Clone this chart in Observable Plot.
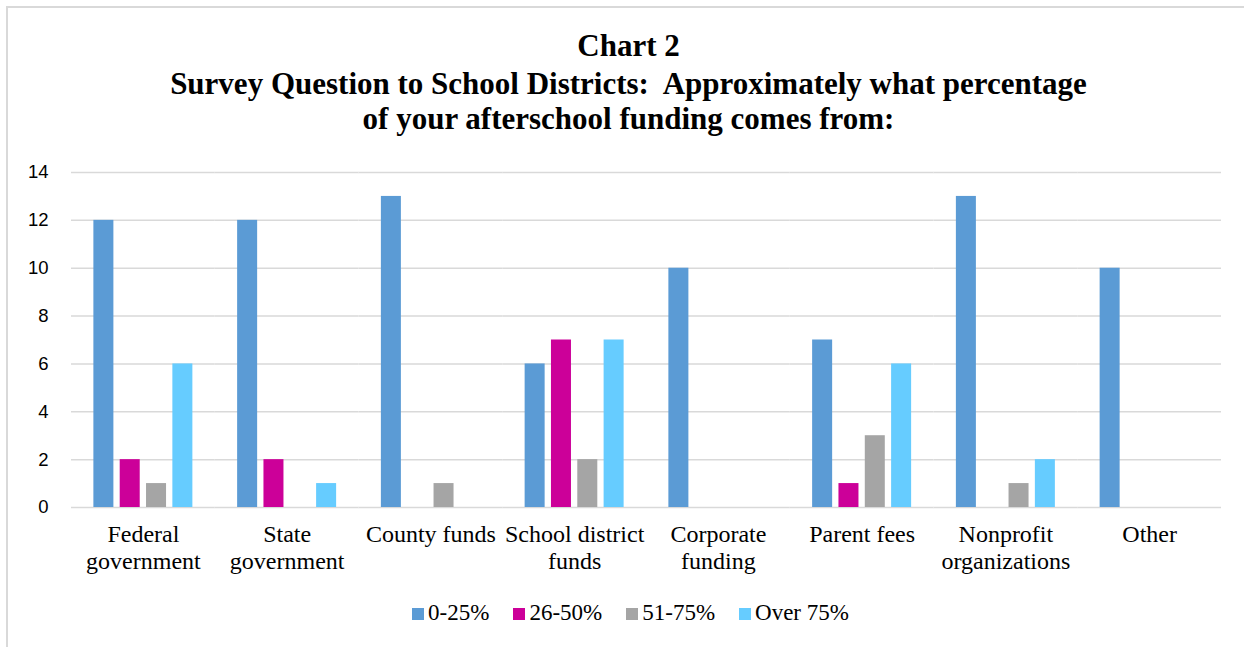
<!DOCTYPE html>
<html>
<head>
<meta charset="utf-8">
<script src="https://cdn.jsdelivr.net/npm/d3@7"></script>
<script src="https://cdn.jsdelivr.net/npm/@observablehq/plot@0.6"></script>
<style>
  html, body { margin: 0; padding: 0; background: #fff; }
  body { width: 1244px; height: 647px; position: relative; overflow: hidden; }
  #frame { position: absolute; left: 6px; top: 6px; width: 1250px; height: 660px; border: 2px solid #d9d9d9; box-sizing: border-box; }
  .title { position: absolute; left: 7px; width: 1243px; text-align: center; font-family: "Liberation Serif", "Times New Roman", serif; font-weight: bold; font-size: 31px; color: #000; white-space: nowrap; }
  #t1 { top: 29px; line-height: 34px; }
  #t2 { top: 66px; line-height: 35px; }
  #t3 { top: 101px; line-height: 35px; }
  #chart { position: absolute; left: 0; top: 150px; }
  #legend { position: absolute; left: 9px; width: 1243px; top: 600px; text-align: center; font-family: "Liberation Serif", "Times New Roman", serif; font-size: 23px; line-height: 26px; color: #000; }
  #legend span.item { display: inline-block; margin: 0 12px; white-space: nowrap; }
  #legend span.sw { display: inline-block; width: 12px; height: 12px; margin-right: 4px; vertical-align: 0px; }
</style>
</head>
<body>
<div id="frame"></div>
<div class="title" id="t1">Chart 2</div>
<div class="title" id="t2">Survey Question to School Districts:&nbsp; Approximately what percentage</div>
<div class="title" id="t3">of your afterschool funding comes from:</div>
<div id="chart"></div>
<div id="legend"></div>
<script>
const categories = ["Federal\ngovernment", "State\ngovernment", "County funds", "School district\nfunds", "Corporate\nfunding", "Parent fees", "Nonprofit\norganizations", "Other"];
const series = ["0-25%", "26-50%", "51-75%", "Over 75%"];
const colors = ["#5b9bd5", "#cc0099", "#a5a5a5", "#66ccff"];
const v0to25 = [12, 12, 13, 6, 10, 7, 13, 10];
const v26to50 = [2, 2, 0, 7, 0, 1, 0, 0];
const v51to75 = [1, 0, 1, 2, 0, 3, 1, 0];
const vOver75 = [6, 1, 0, 7, 0, 6, 2, 0];
const yTicks = [0, 2, 4, 6, 8, 10, 12, 14];

const seriesValues = [v0to25, v26to50, v51to75, vOver75];
const rows = [];
categories.forEach((c, i) => {
  series.forEach((s, j) => {
    const v = seriesValues[j][i];
    if (v > 0) rows.push({cat: c, series: s, value: v});
  });
});

const plot = Plot.plot({
  width: 1244,
  height: 450,
  marginLeft: 71,
  marginRight: 23,
  marginTop: 22,
  marginBottom: 93,
  style: {background: "transparent", color: "#000"},
  fx: {domain: categories, padding: 0, round: false, label: null},
  x: {domain: series, axis: null, paddingInner: 0.24, paddingOuter: 0.85, round: false},
  y: {domain: [0, 14], label: null},
  color: {domain: series, range: colors},
  marks: [
    Plot.gridY(yTicks, {stroke: "#d9d9d9", strokeOpacity: 1, strokeWidth: 1.5}),
    Plot.barY(rows, {fx: "cat", x: "series", y: "value", fill: "series"}),
    Plot.axisY(yTicks, {tickSize: 0, tickPadding: 23, fontSize: 18.5, fontFamily: "Liberation Sans, Arial, sans-serif", label: null}),
    Plot.axisFx({anchor: "bottom", tickSize: 0, tickPadding: 15, fontSize: 24, fontFamily: "Liberation Serif, Times New Roman, serif", lineHeight: 1.125, label: null})
  ]
});
document.getElementById("chart").appendChild(plot);

const legend = document.getElementById("legend");
series.forEach((s, i) => {
  const item = document.createElement("span");
  item.className = "item";
  const sw = document.createElement("span");
  sw.className = "sw";
  sw.style.background = colors[i];
  item.appendChild(sw);
  item.appendChild(document.createTextNode(s));
  legend.appendChild(item);
});
</script>
</body>
</html>
